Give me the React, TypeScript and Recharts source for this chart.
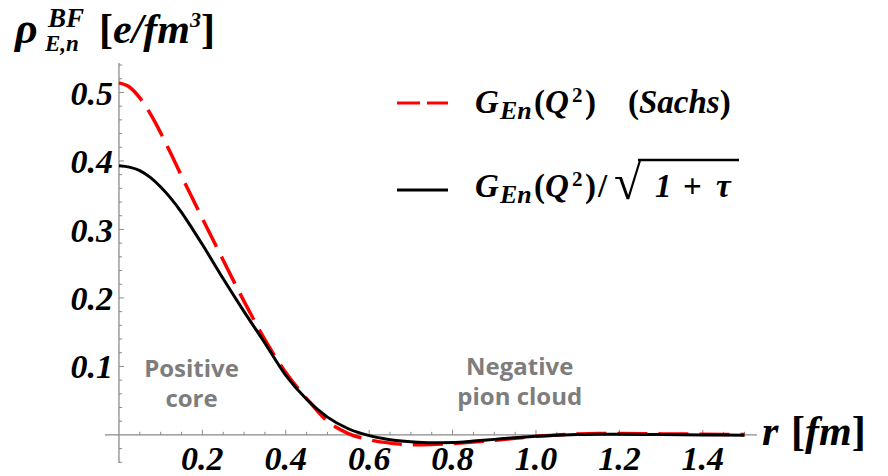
import { LineChart, Line, XAxis, YAxis, ReferenceLine, ReferenceDot, Legend } from 'recharts';

// r [fm]
const rValues = [
    0, 0.025, 0.05, 0.075, 0.1, 0.125, 0.15, 0.175, 0.2,
    0.25, 0.3, 0.35, 0.4, 0.45, 0.5, 0.55, 0.6, 0.65, 0.7, 0.75, 0.8,
    0.85, 0.9, 0.95, 1.0, 1.05, 1.1, 1.15, 1.2, 1.3, 1.4, 1.5,
];

// G_En(Q^2)  (Sachs)  - red dashed
const sachsValues = [
    0.514, 0.508, 0.492, 0.469, 0.441, 0.410, 0.378, 0.347, 0.316,
    0.255, 0.195, 0.139, 0.091, 0.053, 0.020, 0.002, -0.007, -0.012, -0.0145, -0.014, -0.0125,
    -0.0105, -0.008, -0.005, -0.002, 0.000, 0.0015, 0.002, 0.002, 0.0015, 0.001, 0.0005,
];

// G_En(Q^2)/sqrt(1+tau)  - black solid
const scaledValues = [
    0.393, 0.391, 0.386, 0.376, 0.362, 0.345, 0.325, 0.302, 0.278,
    0.228, 0.180, 0.134, 0.087, 0.052, 0.026, 0.009, -0.001, -0.007, -0.010, -0.0115, -0.011,
    -0.009, -0.0065, -0.004, -0.002, -0.0005, 0.0005, 0.001, 0.001, 0.0005, 0, -0.0005,
];

const xMajorTicks = [0.2, 0.4, 0.6, 0.8, 1.0, 1.2, 1.4];
const xMinorTicks = [
    0.05, 0.1, 0.15, 0.25, 0.3, 0.35, 0.45, 0.5, 0.55, 0.65, 0.7, 0.75,
    0.85, 0.9, 0.95, 1.05, 1.1, 1.15, 1.25, 1.3, 1.35, 1.45, 1.5,
];
const yMajorTicks = [0.1, 0.2, 0.3, 0.4, 0.5];
const yMinorTicks = [
    -0.04, -0.02, 0.02, 0.04, 0.06, 0.08, 0.12, 0.14, 0.16, 0.18, 0.22, 0.24,
    0.26, 0.28, 0.32, 0.34, 0.36, 0.38, 0.42, 0.44, 0.46, 0.48, 0.52, 0.54,
];

const data = rValues.map((r, i) => ({ r, sachs: sachsValues[i], scaled: scaledValues[i] }));

const AXIS = '#8a8a8a';
const SERIF = 'Liberation Serif';
const NOTE = '#7d7d7d';

const tickFont = {
    fontFamily: SERIF,
    fontSize: 34,
    fontWeight: 'bold',
    fontStyle: 'italic',
    fill: '#000',
};

const noteFont = {
    fontFamily: 'Open Sans',
    fontSize: 24,
    fontWeight: 'bold',
    fill: NOTE,
};

// G_En(Q^2) as svg tspans
function GEn({ baseline }: { baseline: number }) {
    return (
        <>
            <tspan x={475} y={baseline} fontStyle="italic">G</tspan>
            <tspan x={500} y={baseline + 6} fontSize={26} fontStyle="italic">En</tspan>
            <tspan x={534} y={baseline}>(</tspan>
            <tspan x={545} y={baseline} fontStyle="italic">Q</tspan>
            <tspan x={572} y={baseline - 11} fontSize={21}>2</tspan>
            <tspan x={585} y={baseline}>)</tspan>
        </>
    );
}

function renderLegend(props: any) {
    const payload = props.payload || [];
    const rowY = [103, 190];
    return (
        <svg width={888} height={230} style={{ display: 'block', overflow: 'visible' }}>
            {payload.map((entry: any, i: number) => (
                <line
                    key={`sample-${i}`}
                    x1={397}
                    x2={448}
                    y1={rowY[i]}
                    y2={rowY[i]}
                    stroke={entry.color}
                    strokeWidth={3}
                    strokeDasharray={entry.dataKey === 'sachs' ? '23 7' : undefined}
                />
            ))}
            <text fontFamily={SERIF} fontWeight="bold" fontSize={33} fill="#000">
                <GEn baseline={113} />
                <tspan x={628} y={113}>(</tspan>
                <tspan fontStyle="italic">Sachs</tspan>
                <tspan>)</tspan>
            </text>
            <text fontFamily={SERIF} fontWeight="bold" fontSize={33} fill="#000">
                <GEn baseline={197} />
                <tspan x={598} y={197}>/</tspan>
                <tspan x={614} y={199} fontSize={50}>√</tspan>
                <tspan x={655} y={197} fontStyle="italic">1</tspan>
                <tspan x={683} y={197}>+</tspan>
                <tspan x={716} y={197} fontStyle="italic">τ</tspan>
            </text>
            <line x1={638} x2={739} y1={160} y2={160} stroke="#000" strokeWidth={2.5} />
        </svg>
    );
}

export default function App() {
    return (
        <div style={{ position: 'absolute', left: 0, top: 0, width: 888, height: 476, background: '#fff' }}>
            <LineChart
                width={888}
                height={476}
                data={data}
                margin={{ top: 63, right: 131, bottom: 13, left: 105 }}
            >
                <XAxis type="number" dataKey="r" domain={[-0.0335, 1.53]} hide />
                <YAxis type="number" domain={[-0.041, 0.543]} hide />

                {/* axes crossing at the origin */}
                <ReferenceLine y={0} stroke={AXIS} strokeWidth={1.3} ifOverflow="visible" />
                <ReferenceLine x={0} stroke={AXIS} strokeWidth={1.3} ifOverflow="visible" />

                {xMinorTicks.map((t) => (
                    <ReferenceLine key={`xm-${t}`} segment={[{ x: t, y: 0 }, { x: t, y: 0.0045 }]} stroke={AXIS} ifOverflow="visible" />
                ))}
                {xMajorTicks.map((t) => (
                    <ReferenceLine
                        key={`xM-${t}`}
                        segment={[{ x: t, y: 0 }, { x: t, y: 0.0075 }]}
                        stroke={AXIS}
                        ifOverflow="visible"
                        label={{ value: t.toFixed(1), position: 'bottom', offset: 11, ...tickFont }}
                    />
                ))}
                {yMinorTicks.map((t) => (
                    <ReferenceLine key={`ym-${t}`} segment={[{ x: 0, y: t }, { x: 0.0075, y: t }]} stroke={AXIS} ifOverflow="visible" />
                ))}
                {yMajorTicks.map((t) => (
                    <ReferenceLine
                        key={`yM-${t}`}
                        segment={[{ x: 0, y: t }, { x: 0.012, y: t }]}
                        stroke={AXIS}
                        ifOverflow="visible"
                        label={{ value: t.toFixed(1), position: 'left', offset: 6, ...tickFont }}
                    />
                ))}

                <Line
                    type="monotone"
                    dataKey="sachs"
                    stroke="#ff0000"
                    strokeWidth={3.5}
                    strokeDasharray="30 11"
                    dot={false}
                    activeDot={false}
                    isAnimationActive={false}
                />
                <Line
                    type="monotone"
                    dataKey="scaled"
                    stroke="#000000"
                    strokeWidth={3}
                    dot={false}
                    activeDot={false}
                    isAnimationActive={false}
                />

                {/* region notes */}
                <ReferenceDot x={0.174} y={0.097} r={0} fill="none" stroke="none" label={{ value: 'Positive', position: 'center', ...noteFont }} />
                <ReferenceDot x={0.174} y={0.053} r={0} fill="none" stroke="none" label={{ value: 'core', position: 'center', ...noteFont }} />
                <ReferenceDot x={0.961} y={0.1} r={0} fill="none" stroke="none" label={{ value: 'Negative', position: 'center', ...noteFont }} />
                <ReferenceDot x={0.961} y={0.056} r={0} fill="none" stroke="none" label={{ value: 'pion cloud', position: 'center', ...noteFont }} />

                <Legend
                    layout="vertical"
                    align="center"
                    verticalAlign="middle"
                    content={renderLegend}
                    wrapperStyle={{ left: 0, top: 0, width: 888, height: 230, pointerEvents: 'none' }}
                />
            </LineChart>

            {/* axis titles */}
            <svg
                width={888}
                height={476}
                style={{ position: 'absolute', left: 0, top: 0, pointerEvents: 'none' }}
            >
                <text fontFamily={SERIF} fontWeight="bold" fill="#000">
                    <tspan x={15} y={43} fontSize={44} fontStyle="italic">ρ</tspan>
                    <tspan x={48} y={27} fontSize={27} fontStyle="italic">BF</tspan>
                    <tspan x={45} y={51} fontSize={23} fontStyle="italic">E,n</tspan>
                    <tspan x={99} y={43} fontSize={42}>[</tspan>
                    <tspan fontSize={42} fontStyle="italic">e/fm</tspan>
                    <tspan y={27} fontSize={22} fontStyle="italic">3</tspan>
                    <tspan y={43} fontSize={42}>]</tspan>
                </text>
                <text fontFamily={SERIF} fontWeight="bold" fill="#000" fontSize={42}>
                    <tspan x={762} y={445} fontStyle="italic">r</tspan>
                    <tspan x={791} y={445}>[</tspan>
                    <tspan fontStyle="italic">fm</tspan>
                    <tspan>]</tspan>
                </text>
            </svg>
        </div>
    );
}
